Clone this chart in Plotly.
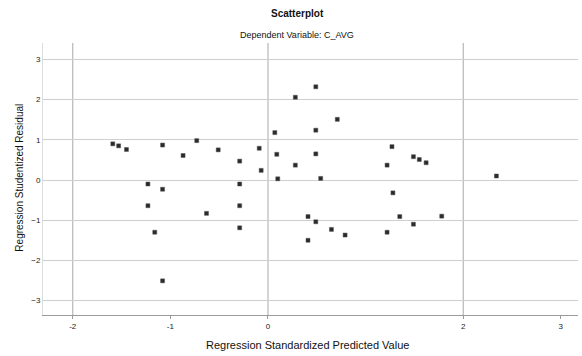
import plotly.graph_objects as go

# Standardized predicted values (x) and studentized residuals (y)
pred = [-1.59, -1.53, -1.45, -1.08, -0.87, -0.73, -0.51, -0.29, -0.09, -0.07,
        0.07, 0.09, 0.28, 0.28, 0.10, -1.23, -1.08, -0.29, -1.23, -0.63,
        -0.29, -0.29, -1.16, -1.08, 0.41, 0.41, 0.49, 0.71, 0.49, 0.49,
        0.54, 1.27, 1.49, 1.55, 1.62, 1.22, 2.34, 1.28, 0.49, 0.65,
        0.79, 1.35, 1.49, 1.78, 1.22]
resid = [0.90, 0.85, 0.76, 0.87, 0.61, 0.98, 0.75, 0.47, 0.79, 0.24,
         1.18, 0.64, 2.06, 0.37, 0.03, -0.10, -0.23, -0.10, -0.64, -0.83,
         -0.64, -1.19, -1.30, -2.51, -0.91, -1.50, 2.32, 1.51, 1.24, 0.65,
         0.04, 0.83, 0.58, 0.51, 0.43, 0.37, 0.10, -0.32, -1.04, -1.23,
         -1.37, -0.91, -1.10, -0.90, -1.30]

x_ticks = [-2, -1, 0, 2, 3]
x_grid = [-2, 0, 2]
y_ticks = [-3, -2, -1, 0, 1, 2, 3]

title = "Scatterplot"
subtitle = "Dependent Variable: C_AVG"
x_title = "Regression Standardized Predicted Value"
y_title = "Regression Studentized Residual"

FONT = "Liberation Sans, Arial, sans-serif"

fig = go.Figure()
fig.add_trace(go.Scatter(
    x=pred, y=resid, mode="markers",
    marker=dict(symbol="square", size=4, color="#2a2a2a",
                line=dict(width=0.5, color="#555555")),
    showlegend=False, hoverinfo="x+y",
))

for g in x_grid:
    fig.add_vline(x=g, line=dict(color="#a8a8a8", width=1), layer="below")

fig.update_layout(
    width=582, height=356,
    margin=dict(l=43, r=4, t=43, b=41),
    paper_bgcolor="white", plot_bgcolor="white",
    font=dict(family=FONT, size=8, color="#222222"),
    xaxis=dict(range=[-2.305, 3.176], tickvals=x_ticks,
               ticktext=[str(v) for v in x_ticks],
               showgrid=False, zeroline=False,
               showline=True, linecolor="#9a9a9a", linewidth=1,
               ticks="outside", ticklen=3, tickcolor="#9a9a9a",
               tickfont=dict(size=8)),
    yaxis=dict(range=[-3.36, 3.41], tickvals=y_ticks,
               showgrid=True, gridcolor="#cfcfcf", gridwidth=1,
               zeroline=False, showline=True, linecolor="#dcdcdc",
               ticks="", tickfont=dict(size=8)),
    annotations=[
        dict(text="<b>" + title + "</b>", x=0.475, y=1.107, xref="paper", yref="paper",
             showarrow=False, xanchor="center", yanchor="middle",
             font=dict(size=10, family=FONT, color="#111111")),
        dict(text=subtitle, x=0.475, y=1.029, xref="paper", yref="paper",
             showarrow=False, xanchor="center", yanchor="middle",
             font=dict(size=9, family=FONT, color="#111111")),
        dict(text=x_title, x=0.495, y=-0.110, xref="paper", yref="paper",
             showarrow=False, xanchor="center", yanchor="middle",
             font=dict(size=11, family=FONT, color="#111111")),
        dict(text=y_title, x=-0.043, y=0.505, xref="paper", yref="paper",
             showarrow=False, xanchor="center", yanchor="middle",
             textangle=-90,
             font=dict(size=10, family=FONT, color="#111111")),
    ],
)

fig.write_html("out.html", config={"displayModeBar": False},
               post_script="document.body.style.margin='0';")
